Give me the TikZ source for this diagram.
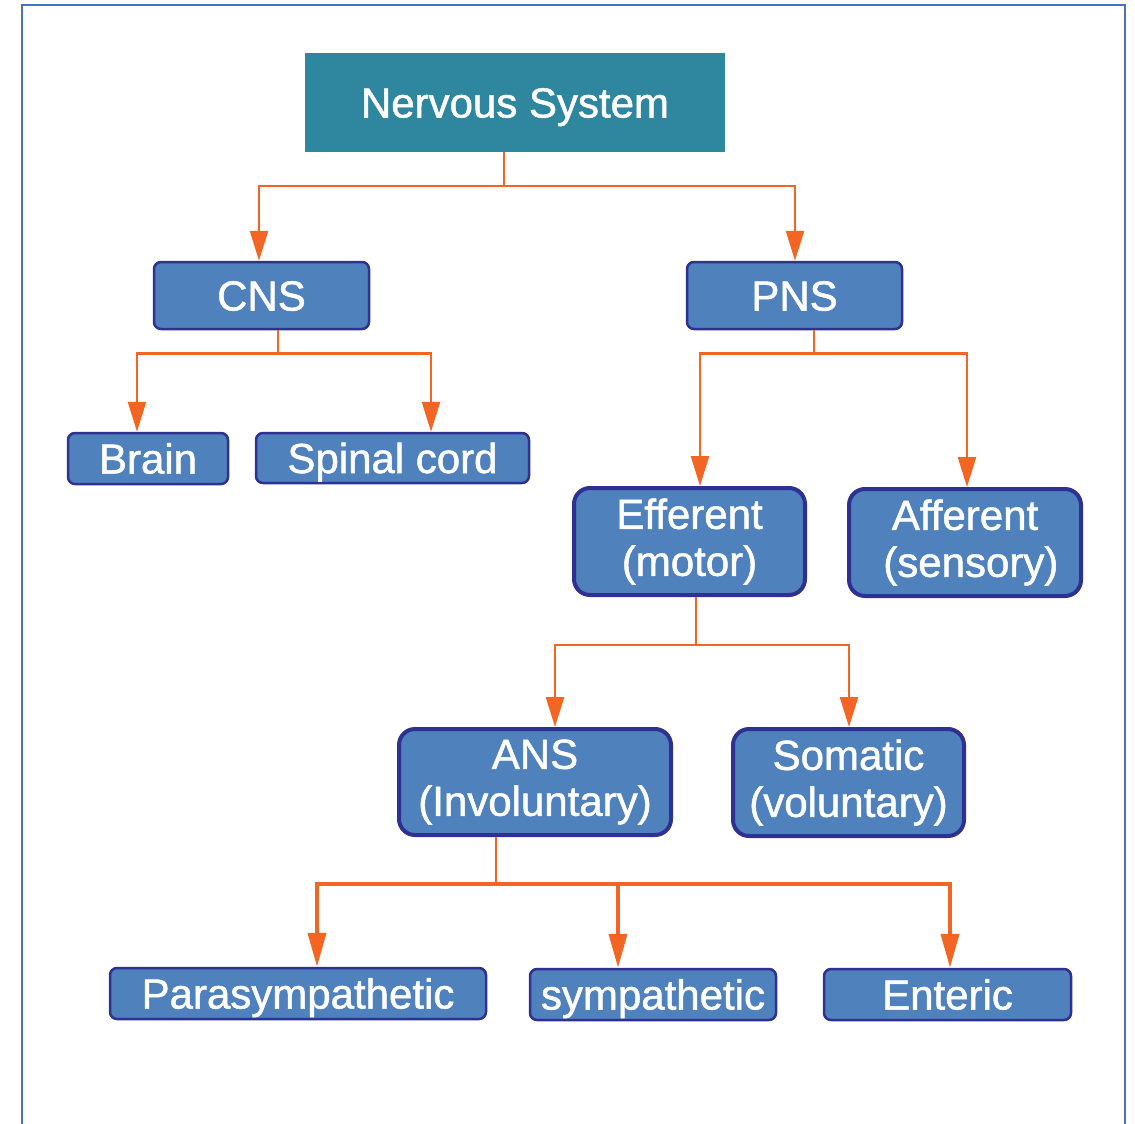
\documentclass[tikz,border=0pt]{standalone}
\usepackage{fontspec}
\setmainfont{Liberation Sans}[BoldFont=Liberation Sans, BoldFeatures={FakeBold=1.2}]
\usetikzlibrary{arrows.meta}
\definecolor{teal1}{HTML}{2E879F}
\definecolor{boxfill}{HTML}{4F81BD}
\definecolor{boxedge}{HTML}{2E3192}
\definecolor{arr}{HTML}{F26522}
\definecolor{frame}{HTML}{4472C4}
\tikzset{
  txt/.style={text=white,font=\fontsize{42}{47}\selectfont\bfseries,align=center,inner sep=0pt},
  one/.style={text height=30pt,text depth=0pt},
  topbox/.style={txt,one,fill=teal1,draw=none,minimum width=420pt,minimum height=99pt},
  smallbox/.style={txt,one,fill=boxfill,draw=boxedge,line width=2.5pt,rounded corners=7pt},
  bigbox/.style={txt,fill=boxfill,draw=boxedge,line width=4pt,rounded corners=16pt},
  conn/.style={draw=arr,line width=2.5pt,-{Triangle[width=18pt,length=30pt]}},
  connb/.style={draw=arr,line width=4pt,-{Triangle[width=18pt,length=34pt]}}
}
\begin{document}
\begin{tikzpicture}[x=1pt,y=-1pt]
\useasboundingbox (0,0) rectangle (1135,1124);
\draw[frame,line width=2pt] (22,1124) -- (22,5) -- (1125,5) -- (1125,1124);
\node[topbox] (ns) at (515,102.5) {Nervous System};
\node[smallbox,minimum width=215pt,minimum height=67pt] (cns) at (261.5,295.5) {CNS};
\node[smallbox,minimum width=215pt,minimum height=67pt] (pns) at (794.5,295.5) {PNS};
\node[smallbox,minimum width=160pt,minimum height=51pt] (brain) at (148,458.5) {Brain};
\node[smallbox,minimum width=273pt,minimum height=50pt] (spinal) at (392.5,458) {Spinal cord};
\node[bigbox,minimum width=231pt,minimum height=107pt] (eff) at (689.5,541.5) {Efferent\\(motor)};
\node[bigbox,minimum width=232pt,minimum height=107pt] (aff) at (965,542.5) {Afferent\\\ (sensory)};
\node[bigbox,minimum width=272pt,minimum height=106pt] (ans) at (535,782) {ANS\\(Involuntary)};
\node[bigbox,minimum width=231pt,minimum height=107pt] (som) at (848.5,782.5) {Somatic\\(voluntary)};
\node[smallbox,minimum width=376pt,minimum height=51pt] (para) at (298,993.5) {Parasympathetic};
\node[smallbox,minimum width=246pt,minimum height=51pt] (symp) at (653,994.5) {sympathetic};
\node[smallbox,minimum width=247pt,minimum height=51pt] (ent) at (947.5,994.5) {Enteric};
% bus x positions
\coordinate (xa) at (259,0);
\coordinate (xb) at (795,0);
\coordinate (xc) at (137,0);
\coordinate (xd) at (431,0);
\coordinate (xe) at (700,0);
\coordinate (xf) at (967,0);
\coordinate (xg) at (555,0);
\coordinate (xh) at (849,0);
\coordinate (xi) at (317,0);
\coordinate (xj) at (618,0);
\coordinate (xk) at (950,0);
\coordinate (xs1) at (504,0);
\coordinate (xs2) at (278,0);
\coordinate (xs3) at (814,0);
\coordinate (xs4) at (696,0);
\coordinate (xs5) at (496,0);
% connectors
\draw[draw=arr,line width=2.5pt] (ns.south -| xs1) -- ++(0,34) coordinate (j1);
\draw[conn] (j1) -| (cns.north -| xa);
\draw[conn] (j1) -| (pns.north -| xb);
\draw[draw=arr,line width=2.5pt] (cns.south -| xs2) -- ++(0,23) coordinate (j2);
\draw[conn] (j2) -| (brain.north -| xc);
\draw[conn] (j2) -| (spinal.north -| xd);
\draw[draw=arr,line width=2.5pt] (pns.south -| xs3) -- ++(0,23) coordinate (j3);
\draw[conn] (j3) -| (eff.north -| xe);
\draw[conn] (j3) -| (aff.north -| xf);
\draw[draw=arr,line width=2.5pt] (eff.south -| xs4) -- ++(0,48) coordinate (j4);
\draw[conn] (j4) -| (ans.north -| xg);
\draw[conn] (j4) -| (som.north -| xh);
\draw[draw=arr,line width=2.5pt] (ans.south -| xs5) -- ++(0,47) coordinate (j5);
\draw[connb] (j5) -| (para.north -| xi);
\draw[connb] (j5) -| (ent.north -| xk);
\draw[connb] (j5 -| xj) -- (symp.north -| xj);
\end{tikzpicture}
\end{document}
